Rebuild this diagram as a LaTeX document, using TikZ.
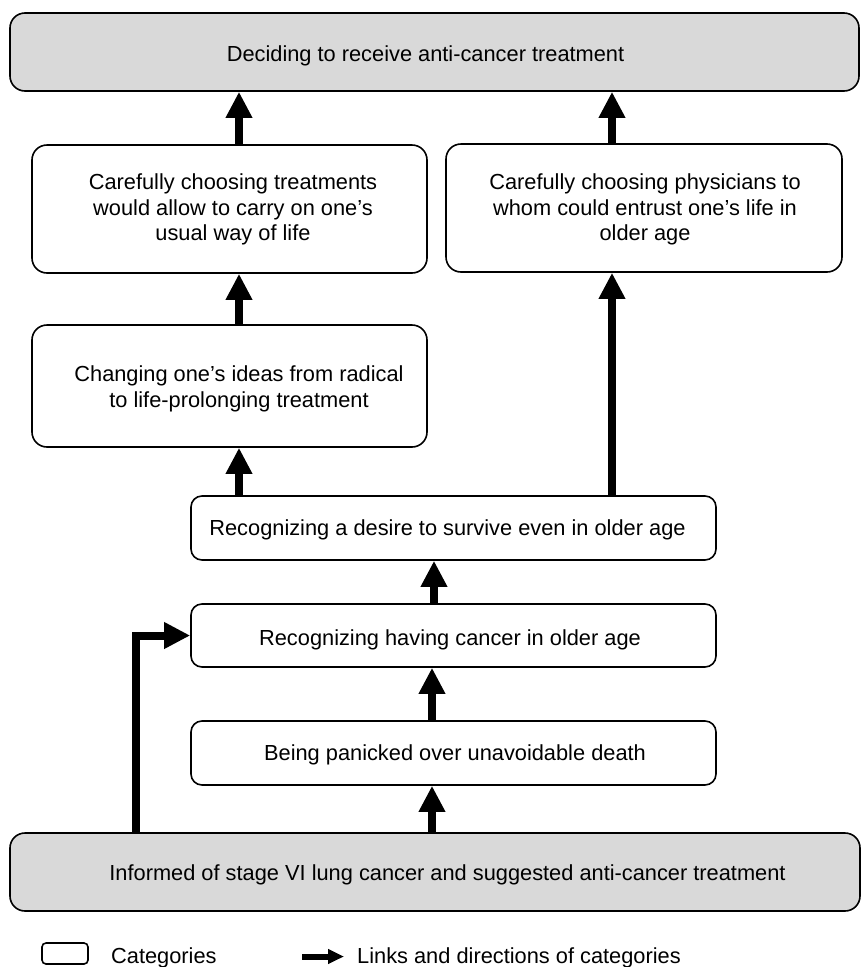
\documentclass[tikz,border=0pt]{standalone}
\usepackage{fontspec}
\setmainfont{Liberation Sans}
\usetikzlibrary{arrows.meta}
\definecolor{boxgray}{RGB}{217,217,217}
\begin{document}
\begin{tikzpicture}[x=1pt,y=-1pt,
  cat/.style={draw=black, line width=1.6pt, rounded corners=11pt, fill=white, inner sep=0pt},
  gcat/.style={cat, fill=boxgray, rounded corners=15pt},
  bigcat/.style={cat, rounded corners=15pt},
  lbl/.style={font=\fontsize{21.8}{25.5}\selectfont, align=center, inner sep=0pt},
  flow/.style={line width=8pt, line join=miter, -{Triangle[length=26pt,width=25pt]}},
  legflow/.style={line width=6pt, -{Triangle[length=16pt,width=14pt]}}]
\useasboundingbox (0,0) rectangle (861,967);

% boxes
\node[gcat, minimum width=849pt, minimum height=78pt] (top) at (434.5,52) {};
\node[bigcat, minimum width=395pt, minimum height=128pt] (left1) at (229.5,209) {};
\node[bigcat, minimum width=396pt, minimum height=128pt] (right1) at (644,208) {};
\node[bigcat, minimum width=395pt, minimum height=122pt] (chg) at (229.5,386) {};
\node[cat, minimum width=525pt, minimum height=64pt] (des) at (453.5,528) {};
\node[cat, minimum width=525pt, minimum height=63pt] (hav) at (453.5,635.5) {};
\node[cat, minimum width=525pt, minimum height=64pt] (pan) at (453.5,753) {};
\node[gcat, minimum width=850pt, minimum height=78pt] (bot) at (435,872) {};

% texts
\node[lbl, anchor=base] (ttop) at (425.5,61) {Deciding to receive anti-cancer treatment};
\node[lbl] (tleft1) at (233,209.5) {Carefully choosing treatments\\would allow to carry on one’s\\usual way of life};
\node[lbl] (tright1) at (645,209.5) {Carefully choosing physicians to\\whom could entrust one’s life in\\older age};
\node[lbl] (tchg) at (239,389) {Changing one’s ideas from radical\\to life-prolonging treatment};
\node[lbl, anchor=base] (tdes) at (447.5,535) {Recognizing a desire to survive even in older age};
\node[lbl, anchor=base] (thav) at (450,645.5) {Recognizing having cancer in older age};
\node[lbl, anchor=base] (tpan) at (455,760) {Being panicked over unavoidable death};
\node[lbl, anchor=base] (tbot) at (447.5,880.5) {Informed of stage VI lung cancer and suggested anti-cancer treatment};

% arrow x positions
\coordinate (xa) at (239,0);
\coordinate (xb) at (612,0);
\coordinate (xc) at (434,0);
\coordinate (xd) at (432,0);
\coordinate (xe) at (136,0);

\draw[flow] (xa |- left1.north) -- (xa |- top.south);
\draw[flow] (xb |- right1.north) -- (xb |- top.south);
\draw[flow] (xa |- chg.north) -- (xa |- left1.south);
\draw[flow] (xa |- des.north) -- (xa |- chg.south);
\draw[flow] (xb |- des.north) -- (xb |- right1.south);
\draw[flow] (xc |- hav.north) -- (xc |- des.south);
\draw[flow] (xd |- pan.north) -- (xd |- hav.south);
\draw[flow] (xd |- bot.north) -- (xd |- pan.south);
\draw[flow] (xe |- bot.north) |- (hav.west);

% legend
\node[cat, rounded corners=4pt, minimum width=46pt, minimum height=21pt] (legbox) at (65,953.5) {};
\node[lbl, anchor=base west] (legcat) at (111,963) {Categories};
\coordinate (la) at (302,956.5);
\coordinate (lb) at (344,956.5);
\draw[legflow] (la) -- (lb);
\node[lbl, anchor=base west] (leglink) at (357,963) {Links and directions of categories};
\end{tikzpicture}
\end{document}
